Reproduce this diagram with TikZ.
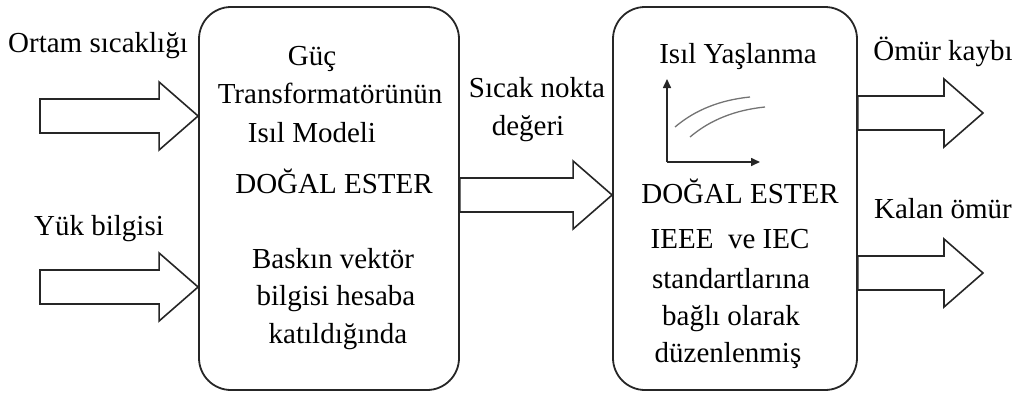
\documentclass[tikz,border=0pt]{standalone}
\usepackage{fontspec}
\setmainfont{Liberation Serif}
\usetikzlibrary{calc,arrows.meta}
\tikzset{
  box/.style={draw=black!85, line width=1.8pt, rounded corners=32pt, inner sep=0pt},
  blockarrow/.style={draw=black!85, line width=1.6pt, line join=miter, fill=white},
  lbl/.style={anchor=base, inner sep=0pt, font=\fontsize{29}{34}\selectfont},
  axis/.style={draw=black!85, line width=1.6pt, -{Triangle[length=9pt,width=8pt]}},
  curve/.style={draw=black!55, line width=1.3pt},
}
\newcommand\barrow[2]{%
  \draw[blockarrow] ($(#1)+(0,-17)$) -- ($(#2)+(-39,-17)$) -- ($(#2)+(-39,-34)$) -- (#2)
    -- ($(#2)+(-39,34)$) -- ($(#2)+(-39,17)$) -- ($(#1)+(0,17)$) -- cycle;}
\begin{document}
\begin{tikzpicture}[x=1pt,y=-1pt]
\useasboundingbox (0,0) rectangle (1023,394);
% boxes
\node[box, minimum width=260pt, minimum height=383pt] (L) at (329,198.5) {};
\node[box, minimum width=244pt, minimum height=383pt] (R) at (735,198.5) {};
% coordinates
\coordinate (in1) at (40,116);
\coordinate (in2) at (40,287);
\coordinate (mid) at (0,195);
\coordinate (o1s) at (0,113);
\coordinate (o2s) at (0,273);
\coordinate (out1) at (983,113);
\coordinate (out2) at (983,273);
% block arrows
\barrow{in1}{L.west |- in1}
\barrow{in2}{L.west |- in2}
\barrow{L.east |- mid}{R.west |- mid}
\barrow{R.east |- out1}{out1}
\barrow{R.east |- out2}{out2}
% left labels
\node[lbl] (t1) at (98,52) {Ortam sıcaklığı};
\node[lbl] (t2) at (99,235) {Yük bilgisi};
% left box text
\node[lbl] (g1) at (312,65) {Güç};
\node[lbl] (g2) at (330,103) {Transformatörünün};
\node[lbl] (g3) at (312,142) {Isıl Modeli};
\node[lbl] (g4) at (334,193) {DOĞAL ESTER};
\node[lbl] (g5) at (333,268) {Baskın vektör};
\node[lbl] (g6) at (336,305) {bilgisi hesaba};
\node[lbl] (g7) at (338,343) {katıldığında};
% middle label
\node[lbl] (m1) at (537,97) {Sıcak nokta};
\node[lbl] (m2) at (528,135) {değeri};
% right box text
\node[lbl] (r1) at (738,63) {Isıl Yaşlanma};
\node[lbl] (r2) at (740,203) {DOĞAL ESTER};
\node[lbl] (r3) at (730,248) {IEEE\ \ ve IEC};
\node[lbl] (r4) at (731,288) {standartlarına};
\node[lbl] (r5) at (731,325) {bağlı olarak};
\node[lbl] (r6) at (728,362) {düzenlenmiş};
% graph
\coordinate (org) at (667,162);
\draw[axis] (org) -- (667,79);
\draw[axis] (org) -- (760,162);
\draw[curve] (675,127) .. controls (695,110) and (720,100) .. (750,97);
\draw[curve] (690,137) .. controls (710,120) and (735,110) .. (765,107);
% right labels
\node[lbl] (o1) at (943,60) {Ömür kaybı};
\node[lbl] (o2) at (943,218) {Kalan ömür};
\end{tikzpicture}
\end{document}
